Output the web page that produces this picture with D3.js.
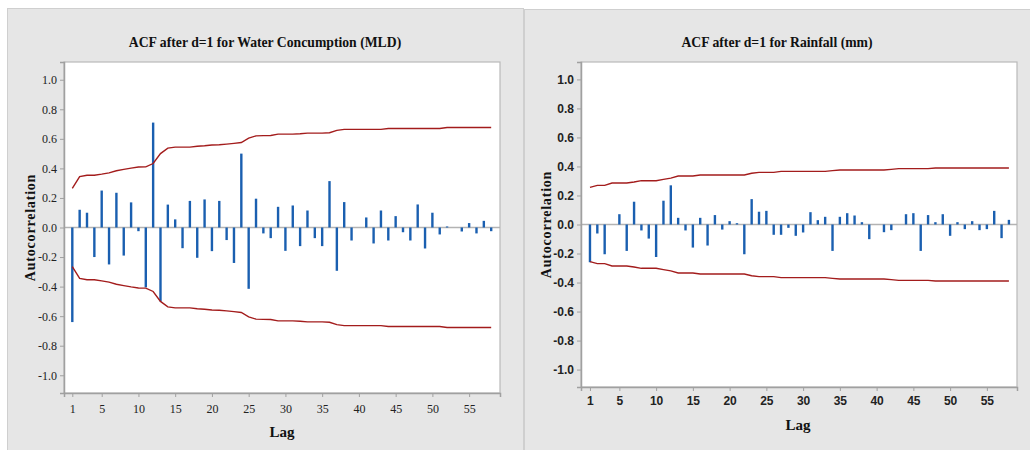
<!DOCTYPE html>
<html>
<head>
<meta charset="utf-8">
<script src="https://cdn.jsdelivr.net/npm/d3@7"></script>
<style>
  body { margin: 0; background: #fff; }
  svg { display: block; }
</style>
</head>
<body>
<div id="chart"></div>
<script>
// lags 1..58
const lags = d3.range(1, 59);

const waterAcf = [
  -0.64, 0.12, 0.10, -0.20, 0.25, -0.25, 0.235, -0.19, 0.17, -0.025,
  -0.405, 0.71, -0.50, 0.155, 0.055, -0.14, 0.18, -0.205, 0.19, -0.16,
  0.18, -0.085, -0.24, 0.50, -0.415, 0.195, -0.04, -0.072, 0.14, -0.158,
  0.149, -0.126, 0.115, -0.072, -0.126, 0.314, -0.293, 0.172, -0.088, 0.0,
  0.068, -0.108, 0.115, -0.088, 0.077, -0.032, -0.088, 0.156, -0.142, 0.10,
  -0.047, 0.007, 0.0, -0.027, 0.03, -0.04, 0.045, -0.025
];
const waterLimit = [
  0.264, 0.345, 0.354, 0.354, 0.361, 0.37, 0.384, 0.393, 0.402, 0.409,
  0.41, 0.433, 0.50, 0.537, 0.544, 0.544, 0.544, 0.55, 0.553, 0.558,
  0.56, 0.564, 0.569, 0.575, 0.605, 0.62, 0.622, 0.623, 0.632, 0.632,
  0.632, 0.634, 0.639, 0.639, 0.639, 0.641, 0.657, 0.664, 0.664, 0.664,
  0.664, 0.664, 0.664, 0.67, 0.67, 0.67, 0.67, 0.67, 0.67, 0.67,
  0.67, 0.677, 0.677, 0.677, 0.677, 0.677, 0.677, 0.677
];

const rainAcf = [
  -0.26, -0.062, -0.205, 0.0, 0.071, -0.182, 0.157, -0.041, -0.097, -0.224,
  0.164, 0.27, 0.046, -0.041, -0.159, 0.046, -0.145, 0.065, -0.035, 0.023,
  0.009, -0.205, 0.175, 0.088, 0.094, -0.071, -0.071, -0.023, -0.078, -0.055,
  0.085, 0.03, 0.053, -0.182, 0.053, 0.078, 0.062, 0.016, -0.101, 0.0,
  -0.053, -0.039, 0.0, 0.071, 0.078, -0.182, 0.065, 0.016, 0.071, -0.078,
  0.016, -0.032, 0.023, -0.039, -0.032, 0.094, -0.094, 0.032
];
const rainLimit = [
  0.256, 0.27, 0.27, 0.286, 0.286, 0.286, 0.293, 0.302, 0.302, 0.302,
  0.311, 0.32, 0.334, 0.334, 0.334, 0.341, 0.341, 0.341, 0.341, 0.341,
  0.341, 0.341, 0.353, 0.359, 0.359, 0.359, 0.366, 0.366, 0.366, 0.366,
  0.366, 0.366, 0.366, 0.371, 0.376, 0.376, 0.376, 0.376, 0.376, 0.376,
  0.376, 0.38, 0.385, 0.385, 0.385, 0.385, 0.385, 0.389, 0.389, 0.389,
  0.389, 0.389, 0.389, 0.389, 0.389, 0.389, 0.389, 0.389
];

const yTicks = [-1.0, -0.8, -0.6, -0.4, -0.2, 0.0, 0.2, 0.4, 0.6, 0.8, 1.0];
const xTicks = [1, 5, 10, 15, 20, 25, 30, 35, 40, 45, 50, 55];

const titles = ['ACF after d=1 for Water Concumption (MLD)', 'ACF after d=1 for Rainfall (mm)'];

const svg = d3.select('#chart')
    .append('svg')
    .attr('width', 1030)
    .attr('height', 450);

function Panel(opt) {
    const g = svg.append('g');

    // grey panel background
    g.append('rect')
        .attr('x', opt.px0 + 0.5)
        .attr('y', opt.py0 + 0.5)
        .attr('width', opt.px1 - opt.px0)
        .attr('height', 450 - opt.py0)
        .attr('fill', '#e6e6e6')
        .attr('stroke', '#cfcfcf');

    const x = d3.scaleLinear().domain(opt.xDomain).range([opt.left, opt.right]);
    const y = d3.scaleLinear().domain([-1.12, 1.12]).range([opt.bottom, opt.top]);

    g.append('rect')
        .attr('x', opt.left)
        .attr('y', opt.top)
        .attr('width', opt.right - opt.left)
        .attr('height', opt.bottom - opt.top)
        .attr('fill', '#fff')
        .attr('stroke', '#b9b9b9')
        .attr('stroke-width', 1.2);

    // zero line
    g.append('line')
        .attr('x1', opt.left)
        .attr('x2', opt.right)
        .attr('y1', y(0))
        .attr('y2', y(0))
        .attr('stroke', '#b3b3b3')
        .attr('stroke-width', 1.6);

    g.selectAll('line.bar')
        .data(opt.acf)
        .enter()
        .append('line')
        .attr('class', 'bar')
        .attr('x1', (d, i) => x(lags[i]))
        .attr('x2', (d, i) => x(lags[i]))
        .attr('y1', y(0))
        .attr('y2', d => y(d))
        .attr('stroke', '#1a5fb0')
        .attr('stroke-width', 2.4);

    const line = d3.line()
        .x((d, i) => x(lags[i]))
        .y(d => y(d));

    g.append('path')
        .datum(opt.limit)
        .attr('d', line)
        .attr('fill', 'none')
        .attr('stroke', '#a31c1c')
        .attr('stroke-width', 1.4);

    g.append('path')
        .datum(opt.limit.map(v => -v))
        .attr('d', line)
        .attr('fill', 'none')
        .attr('stroke', '#a31c1c')
        .attr('stroke-width', 1.4);

    const yAxis = g.append('g')
        .attr('transform', `translate(${opt.left},0)`)
        .call(d3.axisLeft(y).tickValues(yTicks).tickSize(4).tickFormat(d => d.toFixed(1)));
    const xAxis = g.append('g')
        .attr('transform', `translate(0,${opt.bottom})`)
        .call(d3.axisBottom(x).tickValues(xTicks).tickSize(4).tickFormat(d => d));

    [yAxis, xAxis].forEach(a => {
        a.attr('font-family', null);
        a.select('.domain').attr('stroke', '#a0a0a0').attr('stroke-width', 1.5);
        a.selectAll('.tick line').attr('stroke', '#a0a0a0');
        a.selectAll('.tick text')
            .attr('fill', '#222')
            .style('font-family', opt.tickFont)
            .style('font-size', opt.tickSize + 'px')
            .style('font-weight', opt.tickWeight);
    });
    xAxis.selectAll('.tick text').attr('dy', opt.xTickDy);

    g.append('text')
        .attr('x', (opt.px0 + opt.px1) / 2)
        .attr('y', 47)
        .attr('text-anchor', 'middle')
        .style('font-family', '"Liberation Serif", serif')
        .style('font-weight', 'bold')
        .style('font-size', '13.7px')
        .attr('fill', '#111')
        .text(opt.title);

    g.append('text')
        .attr('transform', `translate(${opt.yLabelX},${(opt.top + opt.bottom) / 2}) rotate(-90)`)
        .attr('text-anchor', 'middle')
        .style('font-family', '"Liberation Serif", serif')
        .style('font-weight', 'bold')
        .style('font-size', '14px')
        .style('letter-spacing', '0.8px')
        .attr('fill', '#111')
        .text('Autocorrelation');

    g.append('text')
        .attr('x', opt.lagX)
        .attr('y', opt.lagY)
        .attr('text-anchor', 'middle')
        .style('font-family', '"Liberation Serif", serif')
        .style('font-weight', 'bold')
        .style('font-size', '15px')
        .attr('fill', '#111')
        .text('Lag');
}

Panel({
    px0: 7, px1: 523, py0: 8,
    left: 64, right: 500, top: 62, bottom: 393,
    xDomain: [-0.13, 59.2],
    acf: waterAcf, limit: waterLimit, title: titles[0],
    tickFont: '"Liberation Serif", "Times New Roman", serif', tickSize: 12, tickWeight: 'normal', xTickDy: '1.1em',
    yLabelX: 35, lagX: 282, lagY: 437
});

Panel({
    px0: 524, px1: 1030, py0: 9,
    left: 581, right: 1017, top: 62, bottom: 387,
    xDomain: [-0.22, 59.1],
    acf: rainAcf, limit: rainLimit, title: titles[1],
    tickFont: '"Liberation Sans Narrow", "Arial Narrow", sans-serif', tickSize: 12, tickWeight: 'bold', xTickDy: '0.9em',
    yLabelX: 551, lagX: 798, lagY: 430
});
</script>
</body>
</html>
